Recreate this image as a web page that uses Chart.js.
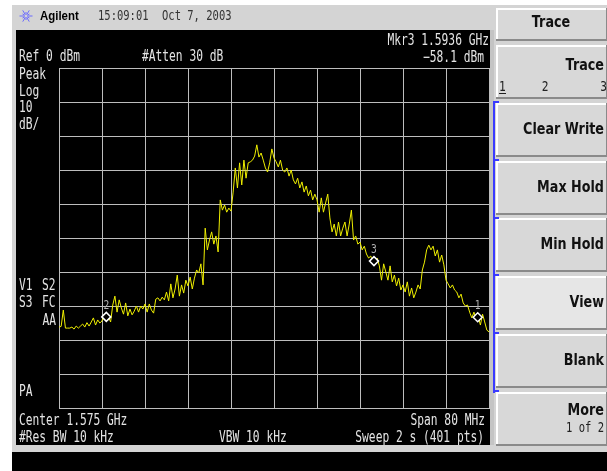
<!DOCTYPE html>
<html><head><meta charset="utf-8">
<script src="https://cdn.jsdelivr.net/npm/chart.js@4.4.0/dist/chart.umd.min.js"></script>
<style>html,body{margin:0;padding:0;background:#fff;overflow:hidden}</style>
</head><body><canvas id="c" width="607" height="471"></canvas>
<script>
// ---- data ----
const startFreqMHz = 1535;
const stopFreqMHz = 1615;
const freqStepMHz = 8;          // 10 horizontal divisions
const refLevelDbm = 0;
const bottomLevelDbm = -100;
const dbPerDiv = 10;
// trace levels (dBm), 201 evenly spaced sweep points
const traceLevels = [
 -76.2,-76.0,-71.2,-76.5,-76.5, -76.5,-76.2,-76.8,-75.9,-76.5,
 -75.9,-75.3,-76.2,-74.9,-75.9, -74.7,-73.5,-75.6,-74.1,-75.0,
 -74.4,-72.4,-73.5,-73.2,-74.7, -69.7,-67.1,-71.8,-68.2,-70.6,
 -72.4,-69.1,-72.9,-70.9,-72.6, -71.5,-70.0,-71.8,-70.0,-70.9,
 -69.4,-71.8,-69.4,-71.2,-72.1, -68.0,-67.6,-68.5,-67.4,-68.2,
 -65.9,-68.5,-63.5,-67.6,-65.0, -60.9,-67.1,-63.8,-66.2,-62.4,
 -64.1,-61.5,-65.0,-61.8,-59.4, -60.3,-57.6,-63.8,-47.1,-53.5,
 -50.6,-48.2,-51.8,-49.4,-54.1, -38.8,-41.8,-40.3,-42.4,-41.2,
 -42.1,-36.5,-29.4,-35.3,-27.9, -34.4,-27.1,-32.4,-27.9,-27.6,
 -27.1,-25.9,-22.6,-26.2,-25.0, -27.1,-29.4,-30.6,-27.9,-23.8,
 -26.5,-27.6,-29.1,-27.1,-30.0, -30.6,-29.4,-31.8,-30.0,-32.9,
 -34.1,-32.4,-35.3,-33.5,-36.5, -34.7,-37.6,-35.9,-38.8,-37.1,
 -38.8,-42.4,-38.2,-42.4,-39.7, -37.1,-44.1,-48.2,-45.9,-49.4,
 -45.3,-49.4,-47.1,-45.3,-49.4, -45.9,-41.8,-50.6,-49.4,-51.8,
 -51.2,-53.5,-52.4,-54.7,-55.9, -55.3,-57.1,-56.8,-55.9,-58.2,
 -62.4,-57.6,-60.0,-62.4,-58.2, -62.9,-60.9,-64.1,-61.8,-65.3,
 -63.8,-65.9,-62.9,-67.1,-64.7, -67.6,-65.9,-63.8,-65.0,-59.4,
 -57.1,-53.5,-52.1,-53.5,-52.4, -55.3,-53.5,-57.1,-55.0,-57.9,
 -62.4,-63.5,-64.7,-63.8,-65.3, -65.9,-67.6,-66.5,-69.1,-70.0,
 -69.7,-71.8,-73.5,-71.8,-74.1, -73.2,-75.6,-72.4,-74.7,-77.1,
 -77.6
];
const markerNames  = ['1', '2', '3'];
const markerFreqs  = [1612.9, 1543.8, 1593.6];
const markerLevels = [-73.3, -73.2, -56.8];

const softkeys = ['Clear Write', 'Max Hold', 'Min Hold', 'View', 'Blank', 'More'];

// ---- helpers ----
function txt(ctx, s, x, y, o) {
  o = o || {};
  const size = o.size || 15, sx = o.sx || 0.75;
  ctx.save();
  ctx.font = (o.weight || '') + ' ' + size + 'px ' + (o.family || '"DejaVu Sans Mono"');
  ctx.fillStyle = o.color || '#e4e4e4';
  ctx.textBaseline = 'middle';
  ctx.textAlign = 'left';
  const w = ctx.measureText(s).width * sx;
  const x0 = o.align === 'right' ? x - w : o.align === 'center' ? x - w / 2 : x;
  ctx.translate(x0, y); ctx.scale(sx, 1);
  ctx.fillText(s, 0, 0);
  ctx.restore();
  return w;
}
function button(ctx, x, y, w, h, fill) {
  ctx.fillStyle = fill; ctx.fillRect(x, y, w, h);
  ctx.fillStyle = '#ffffff'; ctx.fillRect(x, y, w, 2); ctx.fillRect(x, y, 2, h);
  ctx.fillStyle = '#8a8a8a'; ctx.fillRect(x, y + h - 2, w, 2); ctx.fillRect(x + w - 1, y, 1, h);
}

const frame = {
  id: 'frame',
  beforeDraw(chart) {
    const ctx = chart.ctx;
    ctx.save();
    ctx.fillStyle = '#ffffff'; ctx.fillRect(0, 0, 607, 471);
    ctx.fillStyle = '#d4d4d4'; ctx.fillRect(12, 5, 595, 466);
    // screen
    ctx.fillStyle = '#000000'; ctx.fillRect(16, 30, 474, 415);
    ctx.fillStyle = '#000000'; ctx.fillRect(12, 452, 595, 19);
    ctx.fillStyle = '#c4c4c4'; ctx.fillRect(490, 30, 4, 415);
    // title bar
    const cx = 26, cy = 16;
    ctx.strokeStyle = '#6a6aff'; ctx.lineWidth = 1;
    for (let k = 0; k < 12; k++) {
      const a = k * Math.PI / 6, r = k % 2 ? 4 : 6.5;
      ctx.beginPath(); ctx.moveTo(cx + Math.cos(a) * 1.5, cy + Math.sin(a) * 1.5);
      ctx.lineTo(cx + Math.cos(a) * r, cy + Math.sin(a) * r); ctx.stroke();
    }
    txt(ctx, 'Agilent', 40, 16, {family: '"Liberation Sans"', weight: 'bold', size: 13, sx: 0.88, color: '#000'});
    txt(ctx, '15:09:01', 98, 16, {size: 14, sx: 0.75, color: '#333'});
    txt(ctx, 'Oct 7, 2003', 162, 16, {size: 14, sx: 0.75, color: '#333'});
    // softkey panel
    button(ctx, 496, 8, 111, 33, '#d8d8d8');
    txt(ctx, 'Trace', 551, 23, {family: '"DejaVu Sans"', weight: 'bold', size: 15, sx: 0.85, color: '#111', align: 'center'});
    button(ctx, 496, 45, 111, 54, '#d8d8d8');
    txt(ctx, 'Trace', 604, 66, {family: '"DejaVu Sans"', weight: 'bold', size: 15, sx: 0.85, color: '#111', align: 'right'});
    txt(ctx, '1', 499, 87, {size: 14, sx: 0.8, color: '#222'});
    ctx.fillStyle = '#222'; ctx.fillRect(499, 93, 7, 1);
    txt(ctx, '2', 545, 87, {size: 14, sx: 0.8, color: '#222', align: 'center'});
    txt(ctx, '3', 607, 87, {size: 14, sx: 0.8, color: '#222', align: 'right'});
    const tops = [103, 161, 218, 276, 334, 392];
    softkeys.forEach((s, i) => {
      const y = tops[i], h = 54;
      button(ctx, 496, y, 111, h, i === 3 ? '#e6e6e6' : '#d8d8d8');
      if (s === 'More') {
        txt(ctx, 'More', 604, y + 19, {family: '"DejaVu Sans"', weight: 'bold', size: 15, sx: 0.85, color: '#111', align: 'right'});
        txt(ctx, '1 of 2', 604, y + 36, {size: 14, sx: 0.75, color: '#222', align: 'right'});
      } else {
        txt(ctx, s, 604, y + 27, {family: '"DejaVu Sans"', weight: 'bold', size: 15, sx: 0.85, color: '#111', align: 'right'});
      }
    });
    ctx.fillStyle = '#3a3aff';
    ctx.fillRect(493, 101, 2, 292);
    [101, 159, 217, 274, 332, 390].forEach(y => ctx.fillRect(493, y, 6, 2));
    // annotations
    txt(ctx, 'Ref 0 dBm', 19, 57);
    txt(ctx, '#Atten 30 dB', 142, 57);
    txt(ctx, 'Mkr3 1.5936 GHz', 489, 41, {align: 'right'});
    txt(ctx, '\u221258.1 dBm', 484, 58, {align: 'right'});
    txt(ctx, 'Peak', 19, 75);
    txt(ctx, 'Log', 19, 92);
    txt(ctx, '10', 19, 108);
    txt(ctx, 'dB/', 19, 125);
    txt(ctx, 'V1', 19, 286); txt(ctx, 'S2', 42, 286);
    txt(ctx, 'S3', 19, 303); txt(ctx, 'FC', 42, 303);
    txt(ctx, 'AA', 56, 321, {align: 'right'});
    txt(ctx, 'PA', 19, 392);
    txt(ctx, 'Center 1.575 GHz', 19, 421);
    txt(ctx, '#Res BW 10 kHz', 19, 438);
    txt(ctx, 'VBW 10 kHz', 219, 438);
    txt(ctx, 'Span 80 MHz', 485, 421, {align: 'right'});
    txt(ctx, 'Sweep 2 s (401 pts)', 484, 438, {align: 'right'});
    ctx.restore();
  },
  afterDraw(chart) {
    const ctx = chart.ctx, xs = chart.scales.x, ys = chart.scales.y;
    markerNames.forEach((n, i) => {
      const px = xs.getPixelForValue(markerFreqs[i]);
      const py = ys.getPixelForValue(markerLevels[i]);
      txt(ctx, n, px, py - 11, {size: 12, sx: 0.8, color: '#b0b0b0', align: 'center'});
    });
  }
};

const N = traceLevels.length;
const tracePts = traceLevels.map((v, i) => ({x: startFreqMHz + i * (stopFreqMHz - startFreqMHz) / (N - 1), y: v}));
const markerPts = markerFreqs.map((f, i) => ({x: f, y: markerLevels[i]}));

new Chart(document.getElementById('c'), {
  type: 'line',
  data: {datasets: [
    {data: tracePts, borderColor: '#f0f000', borderWidth: 1, pointRadius: 0, tension: 0, order: 2},
    {type: 'scatter', data: markerPts, pointStyle: 'rectRot', pointRadius: 4.5, borderColor: '#ffffff',
     backgroundColor: '#000000', borderWidth: 1.5, order: 1}
  ]},
  options: {
    responsive: false, animation: false, events: [],
    layout: {padding: {left: 59, top: 68, right: 118, bottom: 63}},
    plugins: {legend: {display: false}, tooltip: {enabled: false}},
    scales: {
      x: {type: 'linear', min: startFreqMHz, max: stopFreqMHz,
          ticks: {display: false, stepSize: freqStepMHz},
          grid: {color: '#bdbdbd', lineWidth: 1, drawTicks: false},
          border: {color: '#bdbdbd', width: 1}},
      y: {min: bottomLevelDbm, max: refLevelDbm,
          ticks: {display: false, stepSize: dbPerDiv},
          grid: {color: '#bdbdbd', lineWidth: 1, drawTicks: false},
          border: {color: '#bdbdbd', width: 1}}
    }
  },
  plugins: [frame]
});
</script>
</body></html>
